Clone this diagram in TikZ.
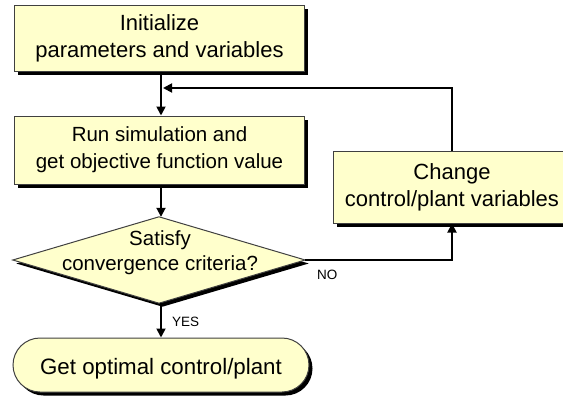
\documentclass[tikz,border=0pt]{standalone}
\usepackage{fontspec}
\setmainfont{Liberation Sans}
\usetikzlibrary{shadows,arrows.meta}
\definecolor{boxfill}{HTML}{FFFFCC}
\definecolor{boxline}{HTML}{404040}
\tikzset{
  boxlook/.style={draw=boxline, line width=1pt, fill=boxfill,
    drop shadow={shadow xshift=3.5pt, shadow yshift=-3.5pt, fill=black, opacity=1}},
  boxtext/.style={inner sep=0pt, align=center, font=\fontsize{22}{27}\selectfont},
  smalltext/.style={font=\fontsize{20.5}{27}\selectfont},
  procbox/.style={boxlook, boxtext, rectangle},
  decbox/.style={boxtext, rectangle},
  termbox/.style={boxlook, boxtext, rectangle, rounded corners=27pt},
  flow/.style={line width=1.8pt, -{Triangle[length=9pt,width=9pt]}},
  lbl/.style={font=\fontsize{13.5}{15}\selectfont, inner sep=0pt}
}
\begin{document}
\begin{tikzpicture}[x=1pt,y=-1pt]
\useasboundingbox (0,0) rectangle (563,402);
\node[procbox, minimum width=290pt, minimum height=66pt] (init) at (159.5,38) {Initialize\\parameters and variables};
\node[procbox, smalltext, minimum width=290pt, minimum height=68pt] (run) at (159.5,150) {Run simulation and\\get objective function value};
\node[decbox, minimum width=292pt, minimum height=86pt] (dec) at (159,260) {};
\path[boxlook] (dec.west) -- (dec.north) -- (dec.east) -- (dec.south) -- cycle;
\node[boxtext, font=\fontsize{20.5}{25}\selectfont] (dectext) at (160,253) {Satisfy\\convergence criteria?};
\node[termbox, font=\fontsize{22.3}{27}\selectfont, text height=18pt, text depth=0pt, minimum width=296pt, minimum height=54pt] (term) at (161,365) {Get optimal control/plant};
\node[procbox, minimum width=238pt, minimum height=72pt] (chg) at (452,187) {Change\\control/plant variables};
\coordinate (j) at (161,88);
\draw[flow] (init.south -| j) -- (run.north -| j);
\draw[flow] (chg.north) |- ([xshift=2pt]j);
\draw[flow] (run.south -| j) -- (dec.north -| j);
\draw[flow] (dec.east) -| (chg.south);
\draw[flow] (dec.south -| j) -- (term.north);
\node[lbl, anchor=west] (yes) at (172,322) {YES};
\node[lbl, anchor=west] (no) at (317,275) {NO};
\end{tikzpicture}
\end{document}
